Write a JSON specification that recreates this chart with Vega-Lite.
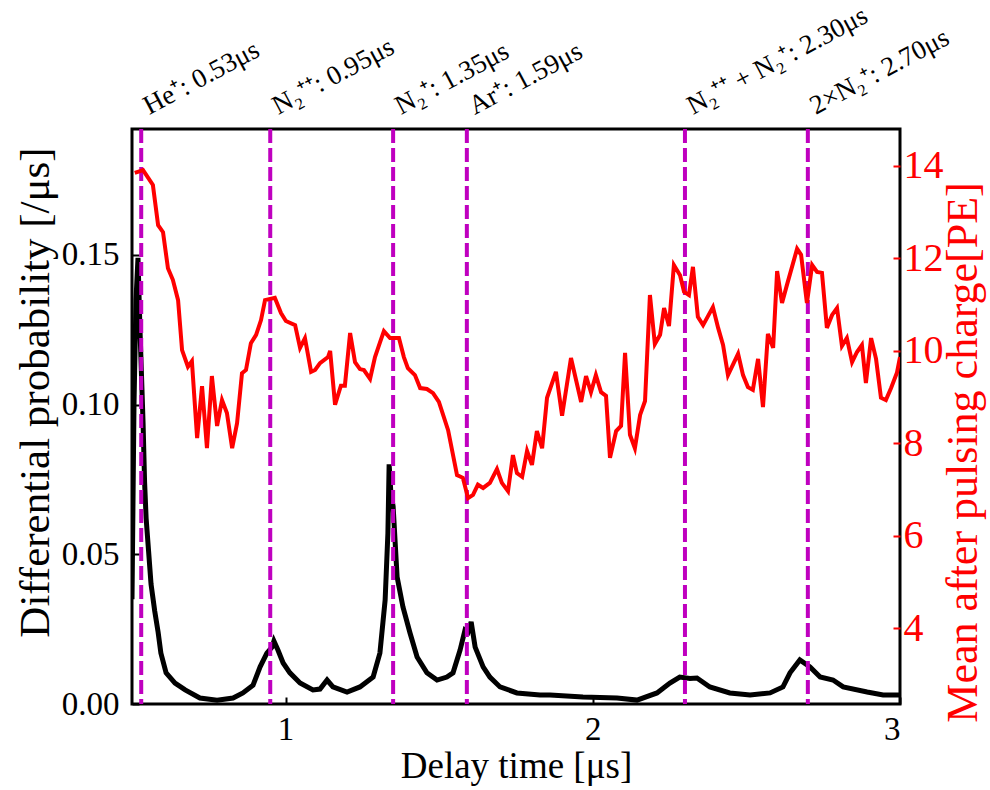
{
  "$schema": "https://vega.github.io/schema/vega-lite/v6.json",
  "width": 768,
  "height": 575,
  "autosize": {"type": "none"},
  "padding": {"left": 132, "top": 129, "right": 90, "bottom": 86},
  "background": "white",
  "config": {
    "view": {"stroke": "black", "strokeWidth": 3},
    "font": "Liberation Serif",
    "axis": {"grid": false, "domain": false, "labelFont": "Liberation Serif", "titleFont": "Liberation Serif", "labelFontSize": 33, "titleFontSize": 39, "titleFontWeight": "normal", "tickSize": -7, "tickWidth": 2, "labelColor": "black", "titleColor": "black", "tickColor": "black"}
  },
  "datasets": {
    "prob": [
      {"t": 0.500, "p": 0.035}, {"t": 0.5065, "p": 0.100}, {"t": 0.513, "p": 0.135}, {"t": 0.5195, "p": 0.149},
      {"t": 0.526, "p": 0.125}, {"t": 0.536, "p": 0.094}, {"t": 0.541, "p": 0.074}, {"t": 0.546, "p": 0.062},
      {"t": 0.554, "p": 0.051}, {"t": 0.562, "p": 0.040}, {"t": 0.574, "p": 0.031}, {"t": 0.585, "p": 0.024},
      {"t": 0.594, "p": 0.017}, {"t": 0.611, "p": 0.0104}, {"t": 0.640, "p": 0.0070}, {"t": 0.673, "p": 0.0047},
      {"t": 0.721, "p": 0.0020}, {"t": 0.777, "p": 0.0013}, {"t": 0.829, "p": 0.0020}, {"t": 0.861, "p": 0.0037},
      {"t": 0.894, "p": 0.0063}, {"t": 0.917, "p": 0.0124}, {"t": 0.939, "p": 0.0170}, {"t": 0.956, "p": 0.019},
      {"t": 0.962, "p": 0.021}, {"t": 0.975, "p": 0.018}, {"t": 0.992, "p": 0.0137}, {"t": 1.014, "p": 0.0104},
      {"t": 1.047, "p": 0.0070}, {"t": 1.089, "p": 0.0047}, {"t": 1.112, "p": 0.0050}, {"t": 1.135, "p": 0.0080},
      {"t": 1.154, "p": 0.0057}, {"t": 1.200, "p": 0.0040}, {"t": 1.242, "p": 0.0057}, {"t": 1.285, "p": 0.0090},
      {"t": 1.307, "p": 0.017}, {"t": 1.324, "p": 0.0347}, {"t": 1.333, "p": 0.057}, {"t": 1.337, "p": 0.080},
      {"t": 1.343, "p": 0.070}, {"t": 1.350, "p": 0.066}, {"t": 1.363, "p": 0.0424}, {"t": 1.382, "p": 0.0324},
      {"t": 1.405, "p": 0.0237}, {"t": 1.428, "p": 0.0157}, {"t": 1.460, "p": 0.0104}, {"t": 1.493, "p": 0.0080},
      {"t": 1.525, "p": 0.0090}, {"t": 1.545, "p": 0.0104}, {"t": 1.568, "p": 0.018}, {"t": 1.584, "p": 0.0247},
      {"t": 1.594, "p": 0.024}, {"t": 1.604, "p": 0.0274}, {"t": 1.617, "p": 0.019}, {"t": 1.643, "p": 0.0124},
      {"t": 1.665, "p": 0.0090}, {"t": 1.698, "p": 0.0057}, {"t": 1.753, "p": 0.0037}, {"t": 1.828, "p": 0.0030},
      {"t": 1.861, "p": 0.0030}, {"t": 1.968, "p": 0.0023}, {"t": 2.079, "p": 0.0020}, {"t": 2.144, "p": 0.0013},
      {"t": 2.209, "p": 0.0037}, {"t": 2.251, "p": 0.0070}, {"t": 2.283, "p": 0.0090}, {"t": 2.316, "p": 0.0085},
      {"t": 2.339, "p": 0.0087}, {"t": 2.381, "p": 0.0057}, {"t": 2.446, "p": 0.0037}, {"t": 2.512, "p": 0.0030},
      {"t": 2.577, "p": 0.0037}, {"t": 2.619, "p": 0.0057}, {"t": 2.642, "p": 0.0104}, {"t": 2.674, "p": 0.0147},
      {"t": 2.707, "p": 0.0124}, {"t": 2.740, "p": 0.0090}, {"t": 2.782, "p": 0.0080}, {"t": 2.815, "p": 0.0057},
      {"t": 2.893, "p": 0.0040}, {"t": 2.945, "p": 0.0030}, {"t": 3.000, "p": 0.0030}
    ],
    "charge": [
      {"t": 0.509, "q": 13.84}, {"t": 0.536, "q": 13.90}, {"t": 0.568, "q": 13.58}, {"t": 0.585, "q": 12.71},
      {"t": 0.601, "q": 12.56}, {"t": 0.617, "q": 11.78}, {"t": 0.633, "q": 11.53}, {"t": 0.650, "q": 11.09},
      {"t": 0.663, "q": 10.01}, {"t": 0.682, "q": 9.65}, {"t": 0.695, "q": 9.77}, {"t": 0.712, "q": 8.11},
      {"t": 0.728, "q": 9.23}, {"t": 0.744, "q": 7.89}, {"t": 0.760, "q": 9.45}, {"t": 0.777, "q": 8.37},
      {"t": 0.793, "q": 8.93}, {"t": 0.809, "q": 8.65}, {"t": 0.826, "q": 7.89}, {"t": 0.842, "q": 8.43},
      {"t": 0.858, "q": 9.51}, {"t": 0.871, "q": 9.58}, {"t": 0.887, "q": 10.16}, {"t": 0.904, "q": 10.34},
      {"t": 0.920, "q": 10.66}, {"t": 0.933, "q": 11.09}, {"t": 0.965, "q": 11.14}, {"t": 0.985, "q": 10.81},
      {"t": 1.001, "q": 10.64}, {"t": 1.031, "q": 10.55}, {"t": 1.047, "q": 10.06}, {"t": 1.063, "q": 10.27},
      {"t": 1.083, "q": 9.54}, {"t": 1.096, "q": 9.58}, {"t": 1.112, "q": 9.73}, {"t": 1.138, "q": 9.86},
      {"t": 1.145, "q": 9.99}, {"t": 1.161, "q": 8.83}, {"t": 1.180, "q": 9.24}, {"t": 1.193, "q": 9.24},
      {"t": 1.210, "q": 10.38}, {"t": 1.226, "q": 9.75}, {"t": 1.242, "q": 9.60}, {"t": 1.255, "q": 9.58},
      {"t": 1.275, "q": 9.39}, {"t": 1.291, "q": 9.86}, {"t": 1.307, "q": 10.17}, {"t": 1.320, "q": 10.42},
      {"t": 1.340, "q": 10.27}, {"t": 1.369, "q": 10.27}, {"t": 1.385, "q": 9.86}, {"t": 1.398, "q": 9.62},
      {"t": 1.421, "q": 9.47}, {"t": 1.438, "q": 9.19}, {"t": 1.460, "q": 9.17}, {"t": 1.480, "q": 9.08},
      {"t": 1.499, "q": 8.89}, {"t": 1.529, "q": 8.28}, {"t": 1.558, "q": 7.31}, {"t": 1.577, "q": 7.25},
      {"t": 1.594, "q": 6.81}, {"t": 1.610, "q": 6.88}, {"t": 1.626, "q": 7.10}, {"t": 1.643, "q": 7.03},
      {"t": 1.665, "q": 7.14}, {"t": 1.688, "q": 7.44}, {"t": 1.704, "q": 7.14}, {"t": 1.724, "q": 6.96},
      {"t": 1.740, "q": 7.74}, {"t": 1.753, "q": 7.35}, {"t": 1.770, "q": 7.27}, {"t": 1.786, "q": 7.83},
      {"t": 1.802, "q": 7.53}, {"t": 1.818, "q": 8.26}, {"t": 1.835, "q": 7.89}, {"t": 1.851, "q": 8.98},
      {"t": 1.880, "q": 9.54}, {"t": 1.900, "q": 8.59}, {"t": 1.929, "q": 9.84}, {"t": 1.962, "q": 8.89},
      {"t": 1.978, "q": 9.45}, {"t": 1.994, "q": 9.10}, {"t": 2.010, "q": 9.47}, {"t": 2.027, "q": 9.10},
      {"t": 2.043, "q": 9.02}, {"t": 2.056, "q": 7.68}, {"t": 2.076, "q": 8.26}, {"t": 2.092, "q": 8.37},
      {"t": 2.105, "q": 9.95}, {"t": 2.121, "q": 8.18}, {"t": 2.137, "q": 7.89}, {"t": 2.154, "q": 8.61},
      {"t": 2.170, "q": 8.91}, {"t": 2.186, "q": 11.20}, {"t": 2.202, "q": 10.14}, {"t": 2.219, "q": 10.34},
      {"t": 2.232, "q": 10.92}, {"t": 2.248, "q": 10.53}, {"t": 2.264, "q": 11.85}, {"t": 2.284, "q": 11.63},
      {"t": 2.297, "q": 11.27}, {"t": 2.313, "q": 11.20}, {"t": 2.326, "q": 11.81}, {"t": 2.342, "q": 10.73},
      {"t": 2.359, "q": 10.55}, {"t": 2.391, "q": 10.94}, {"t": 2.408, "q": 10.49}, {"t": 2.424, "q": 10.12},
      {"t": 2.440, "q": 9.47}, {"t": 2.473, "q": 9.93}, {"t": 2.489, "q": 9.47}, {"t": 2.505, "q": 9.21},
      {"t": 2.521, "q": 9.15}, {"t": 2.538, "q": 9.82}, {"t": 2.554, "q": 8.78}, {"t": 2.570, "q": 10.36},
      {"t": 2.587, "q": 10.06}, {"t": 2.600, "q": 11.72}, {"t": 2.616, "q": 11.03}, {"t": 2.632, "q": 11.42},
      {"t": 2.665, "q": 12.20}, {"t": 2.678, "q": 12.07}, {"t": 2.697, "q": 11.03}, {"t": 2.714, "q": 11.85},
      {"t": 2.730, "q": 11.70}, {"t": 2.746, "q": 11.68}, {"t": 2.762, "q": 10.49}, {"t": 2.779, "q": 10.77},
      {"t": 2.795, "q": 10.92}, {"t": 2.811, "q": 10.10}, {"t": 2.827, "q": 10.27}, {"t": 2.844, "q": 9.75},
      {"t": 2.860, "q": 9.97}, {"t": 2.876, "q": 10.12}, {"t": 2.889, "q": 9.30}, {"t": 2.906, "q": 10.27},
      {"t": 2.922, "q": 9.82}, {"t": 2.938, "q": 8.98}, {"t": 2.954, "q": 8.93}, {"t": 2.971, "q": 9.19},
      {"t": 2.990, "q": 9.52}, {"t": 3.000, "q": 9.86}
    ],
    "ions": [
      {"t": 0.53, "label": "He⁺: 0.53μs"},
      {"t": 0.95, "label": "N₂⁺⁺: 0.95μs"},
      {"t": 1.35, "label": "N₂⁺: 1.35μs"},
      {"t": 1.59, "label": "Ar⁺: 1.59μs"},
      {"t": 2.30, "label": "N₂⁺⁺ + N₂⁺: 2.30μs"},
      {"t": 2.70, "label": "2×N₂⁺: 2.70μs"}
    ]
  },
  "layer": [
    {
      "layer": [
        {
          "data": {"name": "prob"},
          "mark": {"type": "line", "color": "black", "strokeWidth": 5, "clip": true},
          "encoding": {
            "x": {"field": "t", "type": "quantitative", "scale": {"domain": [0.5, 3], "nice": false},
                  "axis": {"values": [1, 2, 3], "format": "d", "title": "Delay time [μs]", "titleFontSize": 37, "labelPadding": 16, "titlePadding": 2}},
            "y": {"field": "p", "type": "quantitative", "scale": {"domain": [0, 0.192], "nice": false},
                  "axis": {"orient": "left", "values": [0, 0.05, 0.1, 0.15], "format": ".2f", "title": "Differential probability [/μs]", "titleFontSize": 43, "titleY": 263, "labelPadding": 20, "titlePadding": 4}}
          }
        },
        {
          "data": {"name": "ions"},
          "mark": {"type": "rule", "color": "#BF00BF", "strokeWidth": 4, "strokeDash": [14, 5]},
          "encoding": {"x": {"field": "t", "type": "quantitative"}}
        },
        {
          "data": {"name": "ions"},
          "mark": {"type": "text", "angle": -28, "align": "left", "baseline": "alphabetic", "fontSize": 27, "dx": 9, "font": "Liberation Serif", "color": "black"},
          "encoding": {
            "x": {"field": "t", "type": "quantitative"},
            "y": {"datum": 0.1953, "scale": {"domain": [0, 0.192], "nice": false}},
            "text": {"field": "label"}
          }
        }
      ]
    },
    {
      "data": {"name": "charge"},
      "mark": {"type": "line", "color": "#FF0000", "strokeWidth": 4, "clip": true},
      "encoding": {
        "x": {"field": "t", "type": "quantitative"},
        "y": {"field": "q", "type": "quantitative", "scale": {"domain": [2.36, 14.79], "nice": false},
              "axis": {"orient": "right", "values": [4, 6, 8, 10, 12, 14], "title": "Mean after pulsing charge[PE]", "titleAngle": 270, "titleBaseline": "top", "titleY": 323, "labelFontSize": 40, "titleFontSize": 44, "labelColor": "#FF0000", "titleColor": "#FF0000", "tickColor": "#FF0000", "labelPadding": 10, "titlePadding": -2}}
      }
    }
  ],
  "resolve": {"scale": {"y": "independent"}}
}
